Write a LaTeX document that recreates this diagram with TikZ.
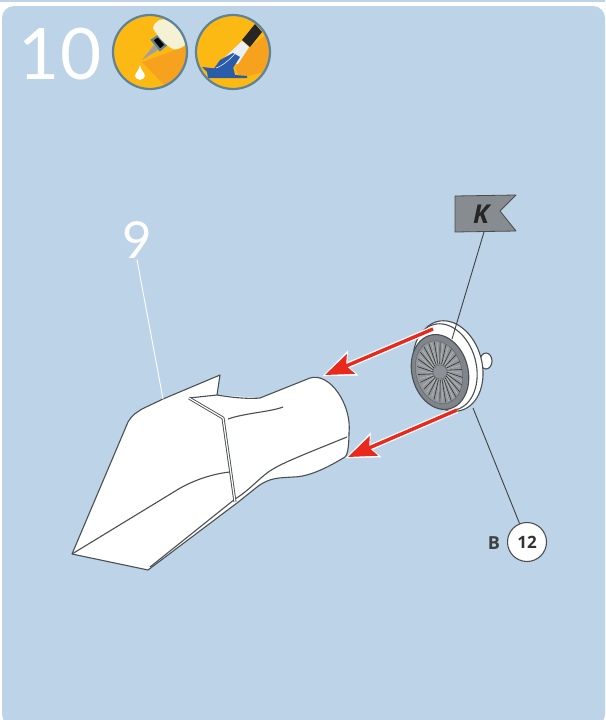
\documentclass[tikz,border=0pt]{standalone}
\usepackage{fontspec}
\setmainfont{Open Sans}
\newfontfamily\numfont{Lato}
\usetikzlibrary{arrows.meta}
\definecolor{panelblue}{HTML}{BDD4E8}
\definecolor{iconyellow}{HTML}{FDB913}
\definecolor{iconorange}{HTML}{F6A21E}
\definecolor{iconring}{HTML}{5E8296}
\definecolor{wheelgrey}{HTML}{7F858B}
\definecolor{flaggrey}{HTML}{878C91}
\definecolor{arrowred}{HTML}{E8291C}
\definecolor{outlinegrey}{HTML}{4A4F52}
\definecolor{paintblue}{HTML}{2A5CAA}

\begin{document}
\begin{tikzpicture}[
    x=1pt, y=-1pt,
    outline/.style={draw=outlinegrey, line width=1.1pt, line join=round},
    ridge/.style={draw=outlinegrey, line width=3pt, line join=round},
    ridgein/.style={draw=white, line width=1.2pt, line join=round},
    leader/.style={draw=black!75, line width=0.9pt},
    redarrow/.style={draw=arrowred, line width=3.4pt, -{Stealth[length=28pt, width=21pt, inset=5pt]}},
    halo/.style={draw=white, line width=6pt, -{Stealth[length=33pt, width=26pt, inset=6pt]}, shorten >=-3pt},
    iconring/.style={draw=iconring, line width=2.2pt},
    badge/.style={draw=outlinegrey, circle, fill=white, line width=1.1pt, minimum size=39pt, inner sep=0pt, font=\bfseries\fontsize{17}{17}\selectfont, text=black!80},
]
\useasboundingbox (0,0) rectangle (605,720);
\fill[panelblue] (0,0) rectangle (605,720);
\fill[white] (0,1.5) rectangle (605,720);
\fill[panelblue, rounded corners=12pt] (2,6) rectangle (605,726);

\node[text=white, font=\numfont\fontsize{71}{71}\selectfont, inner sep=0pt] (stepnum) at (60,54) {10};
\node[text=white, font=\numfont\fontsize{51}{51}\selectfont, inner sep=0pt] (partnum) at (137,240) {9};

% glue icon
\begin{scope}
\clip (150,52) circle (37);
\fill[iconyellow] (113,15) rectangle (187,89);
\fill[iconorange] (142,62) -- (190,45) -- (190,89) -- (165,86) -- cycle;
\fill[gray!75] (142,60) -- (154,45) -- (158,50) -- cycle;
\fill[iconring] (152,40) -- (158,36) -- (166,45) -- (160,50) -- cycle;
\fill[white!85!yellow!90!gray] (153,28) .. controls (155,20) and (162,18) .. (168,20) .. controls (178,24) and (186,36) .. (185,45) .. controls (180,49) and (176,50) .. (173,49) .. controls (168,47) and (158,38) .. (153,28) -- cycle;
\fill[white] (140,65) .. controls (139,71) and (135,73) .. (135,76) .. controls (136,81) and (144,81) .. (145,76) .. controls (145,73) and (141,71) .. (140,65) -- cycle;
\end{scope}
\draw[iconring] (150,52) circle (37);

% brush icon
\begin{scope}
\clip (233,52) circle (37);
\fill[iconyellow] (196,15) rectangle (270,89);
\fill[iconorange] (250,47) -- (272,30) -- (272,70) -- (240,78) -- (235,68) -- cycle;
\fill[black!85] (242,40) -- (255,24) -- (262,32) -- (250,47) -- cycle;
\fill[white!90!paintblue] (242,41) -- (249,47) -- (238,64) -- (222,60) -- cycle;
\fill[paintblue] (233,53) -- (240,57) -- (233,68) -- (213,70) -- (220,60) -- cycle;
\fill[paintblue] (202,67) -- (220,69) -- (233,67) -- (235,75) -- (247,76) -- (247,78) -- (208,78) -- (207,72) -- cycle;
\draw[white, line width=0.5pt] (216,68) .. controls (222,66) and (230,60) .. (238,50);
\end{scope}
\draw[iconring] (233,52) circle (37);

% body
\coordinate (tipleft) at (72,554);
\coordinate (tipright) at (148,570);
\coordinate (ridgetop) at (189,398);
\coordinate (ridgebend) at (223,418);
\coordinate (ridgeend) at (235,502);
\fill[white] (tipleft) -- (128,422) .. controls (133,414) and (136,413) .. (142,409) -- (163,399) -- (220,375) -- (217,395) -- (260,398) -- (310,378) .. controls (330,372) and (352,405) .. (349,433) .. controls (349,448) and (347,456) .. (345,457) .. controls (330,466) and (310,477) .. (293,477) .. controls (280,478) and (270,477) .. (257,487) -- (237,503) -- (tipright) -- cycle;
\draw[outline] (tipleft) -- (128,422) .. controls (133,414) and (136,413) .. (142,409) -- (163,399) -- (220,375) -- (217,395);
\draw[outline] (ridgetop) -- (217,395) .. controls (235,398) and (250,399) .. (260,398) -- (310,378) .. controls (330,372) and (352,405) .. (349,433) .. controls (349,448) and (347,456) .. (345,457) .. controls (330,466) and (310,477) .. (293,477) .. controls (280,478) and (270,477) .. (257,487) -- (237,503) -- (tipright) -- (tipleft);
\draw[outline] (tipleft) -- (177,490) .. controls (190,482) and (210,474) .. (230,472);
\draw[outline] (150,567) -- (235,499) .. controls (250,490) and (262,475) .. (273,469) .. controls (285,462) and (300,456) .. (347,437);
\draw[outline] (228,419) .. controls (245,413) and (270,412) .. (283,407);
\draw[ridge] (ridgetop) -- (ridgebend) -- (ridgeend);
\draw[ridgein] (ridgetop) -- (ridgebend) -- (ridgeend);

% wheel
\coordinate (knob) at (486,361);
\draw[outline, fill=white] (knob) ellipse (6 and 8);
\begin{scope}[shift={(449,366)}, rotate=15]
\draw[outline, fill=white] (0,0) ellipse (33 and 46);
\draw[outline, fill=white] (-4,0) ellipse (31 and 44);
\end{scope}
\begin{scope}[shift={(440,372)}, rotate=15]
\draw[outline, fill=wheelgrey] (0,0) ellipse (28 and 38);
\draw[draw=black!60, line width=0.5pt, fill=wheelgrey!85] (-1,0) ellipse (23 and 32);
\foreach \ang in {0,15,...,345}{
    \draw[black!80, line width=0.6pt] ({7*cos(\ang)},{8*sin(\ang)}) -- ({22*cos(\ang+6)},{31*sin(\ang+6)});
    \draw[white!45!wheelgrey, line width=0.5pt] ({8*cos(\ang+7)},{9*sin(\ang+7)}) -- ({21*cos(\ang+13)},{30*sin(\ang+13)});
}
\draw[fill=wheelgrey!90, draw=black!60, line width=0.5pt] (0,0) ellipse (7 and 7);
\end{scope}

% labels
\draw[draw=black!70, fill=flaggrey, line width=0.8pt, line join=round] (455,196) -- (516,195) -- (500,211) -- (516,231) -- (455,232) -- cycle;
\node[text=black!85, font=\bfseries\itshape\fontsize{26}{26}\selectfont, inner sep=0pt] (flagk) at (481,214) {K};
\coordinate (flagfoot) at (484,232);
\coordinate (wheelk) at (452,339);
\coordinate (wheelb) at (473,408);
\node[badge] (partb) at (527,542) {12};
\node[font=\bfseries\fontsize{18}{18}\selectfont, text=black!75, inner sep=0pt] (partbl) at (494,543) {B};
\draw[leader] (flagfoot) -- (wheelk);
\draw[leader] (wheelb) -- (partb);
\coordinate (ninefoot) at (163,399);
\draw[white, line width=0.9pt] (partnum.south) ++(0,1) -- (ninefoot);

% arrows
\coordinate (upstart) at (433,329);
\coordinate (upend) at (325,375);
\coordinate (lowstart) at (457,410);
\coordinate (lowend) at (348,457);
\draw[halo] (upstart) -- (upend);
\draw[redarrow] (upstart) -- (upend);
\draw[halo] (lowstart) -- (lowend);
\draw[redarrow] (lowstart) -- (lowend);
\end{tikzpicture}
\end{document}
